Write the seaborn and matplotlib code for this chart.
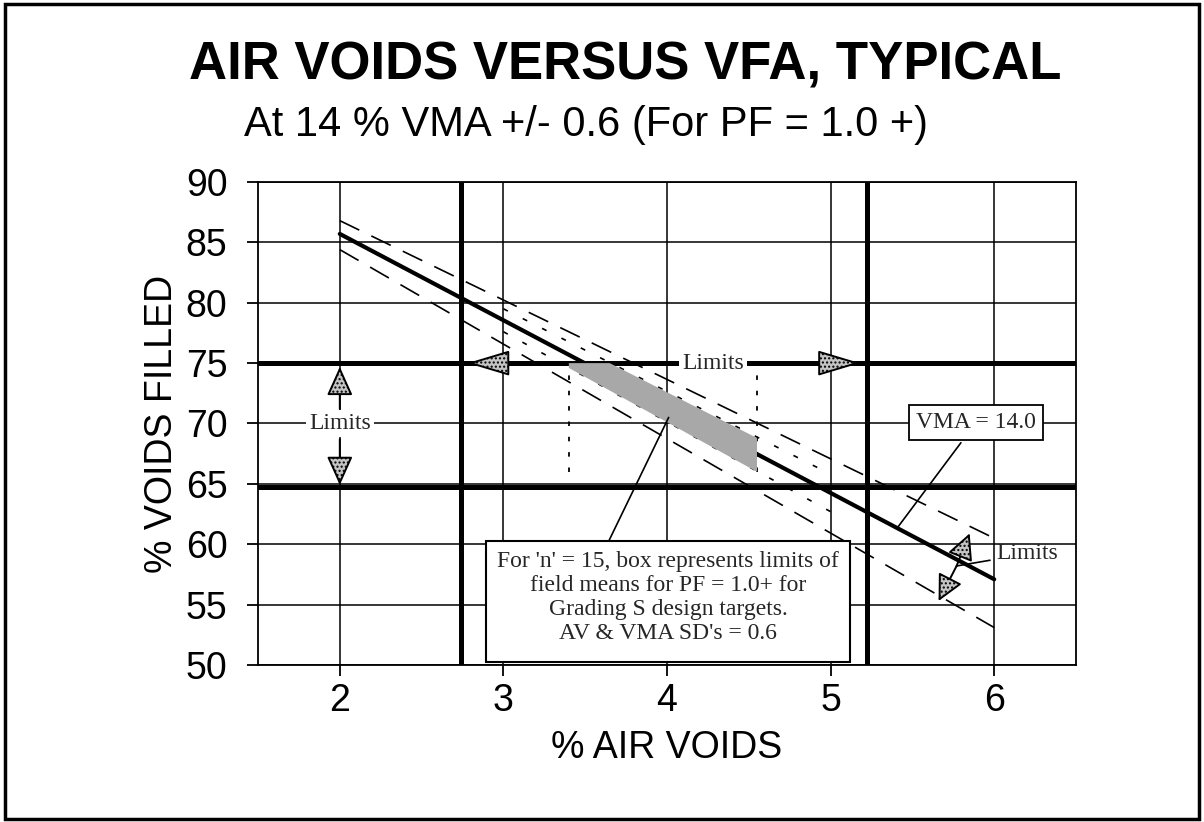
import matplotlib
matplotlib.use("Agg")
import matplotlib.pyplot as plt
import seaborn as sns
from matplotlib.patches import Rectangle

# values: % air voids (x) vs % voids filled (y)
av_ends = [2, 6]
vfa_vma_140 = [85.7, 57.1]   # VMA = 14.0
vfa_vma_152 = [86.8, 60.5]   # outer dashed band
vfa_vma_128 = [84.4, 53.1]

av_inner = [3, 5]
vfa_vma_146 = [79.5, 65.8]   # inner dotted band (+/- 0.6)
vfa_vma_134 = [77.6, 62.7]

# shaded box = limits of field means
box_av = [3.4, 3.65, 4.55, 4.55, 3.4]
box_vfa = [75.0, 75.0, 68.8, 66.0, 74.6]
box_av_limits = [3.4, 4.55]
box_vfa_range = [66.0, 75.0]

# spec limits
av_limits = [2.74, 5.22]
vfa_limits = [75.0, 64.7]

x_ticks = [2, 3, 4, 5, 6]
y_ticks = [50, 55, 60, 65, 70, 75, 80, 85, 90]

title = "AIR VOIDS VERSUS VFA, TYPICAL"
subtitle = "At 14 % VMA +/- 0.6 (For PF = 1.0 +)"
note = ("For 'n' = 15, box represents limits of\n"
        "field means for PF = 1.0+ for\n"
        "Grading S design targets.\n"
        "AV & VMA SD's = 0.6")

sns.set_theme(style="ticks")
plt.rcParams["font.family"] = ["Liberation Sans", "DejaVu Sans"]
serif = ["Liberation Serif", "DejaVu Serif"]

fig = plt.figure(figsize=(12.04, 8.22), dpi=100)
ax = fig.add_axes([258 / 1204, 1 - 665 / 822, 818 / 1204, 483 / 822])

# outer frame round the whole picture
fig.patches.append(Rectangle((0.004, 0.004), 0.992, 0.991, transform=fig.transFigure,
                             fill=False, lw=2.5, ec="black"))

# limit lines
for v in av_limits:
    ax.axvline(v, color="black", lw=3.6, zorder=2)
for h in vfa_limits:
    ax.axhline(h, color="black", lw=3.6, zorder=2)

# band lines
sns.lineplot(x=av_ends, y=vfa_vma_152, ax=ax, color="black", lw=1.2,
             linestyle=(0, (13, 8)), zorder=3)
sns.lineplot(x=av_ends, y=vfa_vma_128, ax=ax, color="black", lw=1.2,
             linestyle=(0, (13, 8)), zorder=3)
sns.lineplot(x=av_inner, y=vfa_vma_146, ax=ax, color="black", lw=1.2,
             linestyle=(0, (3, 10)), zorder=3)
sns.lineplot(x=av_inner, y=vfa_vma_134, ax=ax, color="black", lw=1.2,
             linestyle=(0, (3, 10)), zorder=3)
sns.lineplot(x=av_ends, y=vfa_vma_140, ax=ax, color="black", lw=3.0, zorder=3)

# box of field means
ax.fill(box_av, box_vfa, facecolor="#a8a8a8", edgecolor="none", zorder=4)
for v in box_av_limits:
    ax.vlines(v, box_vfa_range[0], box_vfa_range[1], color="black", lw=1.3,
              linestyles=(0, (2.5, 6)), zorder=3)

ax.set_xlim(1.5, 6.5)
ax.set_ylim(50, 90)
ax.set_xticks(x_ticks)
ax.set_yticks(y_ticks)
ax.grid(True, color="black", lw=1.1, zorder=0)
ax.set_axisbelow(True)
for s in ax.spines.values():
    s.set_color("black")
    s.set_linewidth(1.3)
ax.tick_params(axis="both", direction="out", length=8, width=1.3, color="black",
               labelsize=27, labelcolor="black")
ax.tick_params(axis="y", pad=14)
ax.tick_params(axis="x", pad=5)
ax.set_xlabel("% AIR VOIDS", fontsize=27, color="black", labelpad=8)
ax.set_ylabel("% VOIDS FILLED", fontsize=27, color="black")
ax.yaxis.set_label_coords(-0.095, 0.5)

fig.text(0.519, 0.92, title, ha="center", va="center", fontsize=38,
         fontweight="bold", color="black")
fig.text(0.487, 0.848, subtitle, ha="center", va="center", fontsize=30,
         color="black")


def tri(hl, hw=0.45):
    return dict(arrowstyle=f"-|>,head_length={hl},head_width={hw}",
                mutation_scale=18, lw=1.4, ec="black", fc="#c4c4c4",
                hatch="....", shrinkA=0, shrinkB=0)


white = dict(fc="white", ec="none", pad=2)

# vertical limits at AV = 2
ax.text(2, 70, "Limits", ha="center", va="center", fontsize=17, family=serif,
        bbox=white, zorder=6)
ax.annotate("", xy=(2, 74.7), xytext=(2, 71.2), arrowprops=tri(1.0), zorder=6)
ax.annotate("", xy=(2, 64.9), xytext=(2, 68.7), arrowprops=tri(1.0), zorder=6)

# horizontal limits along VFA = 75
ax.text(4.28, 75, "Limits", ha="center", va="center", fontsize=17, family=serif,
        bbox=white, zorder=6)
ax.annotate("", xy=(2.78, 75), xytext=(3.1, 75), arrowprops=tri(1.5), zorder=6)
ax.annotate("", xy=(5.18, 75), xytext=(4.9, 75), arrowprops=tri(1.5), zorder=6)

# limits of the band at the right
ax.annotate("Limits", xy=(5.77, 58.2), xytext=(6.2, 59.2), ha="center",
            va="center", fontsize=17, family=serif, zorder=6,
            arrowprops=dict(arrowstyle="-", lw=1.2, color="black", shrinkB=0))
ax.annotate("", xy=(5.85, 60.9), xytext=(5.77, 58.2), arrowprops=tri(0.9), zorder=6)
ax.annotate("", xy=(5.66, 55.3), xytext=(5.77, 58.2), arrowprops=tri(0.9), zorder=6)

# VMA label
ax.annotate("VMA = 14.0", xy=(5.41, 61.4), xytext=(5.89, 70.1), ha="center",
            va="center", fontsize=17, family=serif, zorder=6,
            bbox=dict(boxstyle="square,pad=0.3", fc="white", ec="black", lw=1.3),
            arrowprops=dict(arrowstyle="-", lw=1.2, color="black", shrinkB=0))

# note box
ax.add_patch(Rectangle((2.893, 50.25), 2.226, 10.04, fc="white", ec="black",
                       lw=1.5, zorder=6))
ax.text(4.006, 55.6, note, ha="center", va="center", fontsize=17, family=serif,
        linespacing=1.2, zorder=7)
ax.annotate("", xy=(4.01, 70.5), xytext=(3.645, 60.29),
            arrowprops=dict(arrowstyle="-", lw=1.2, color="black",
                            shrinkA=0, shrinkB=0), zorder=6)

fig.savefig("out.png", dpi=100)
